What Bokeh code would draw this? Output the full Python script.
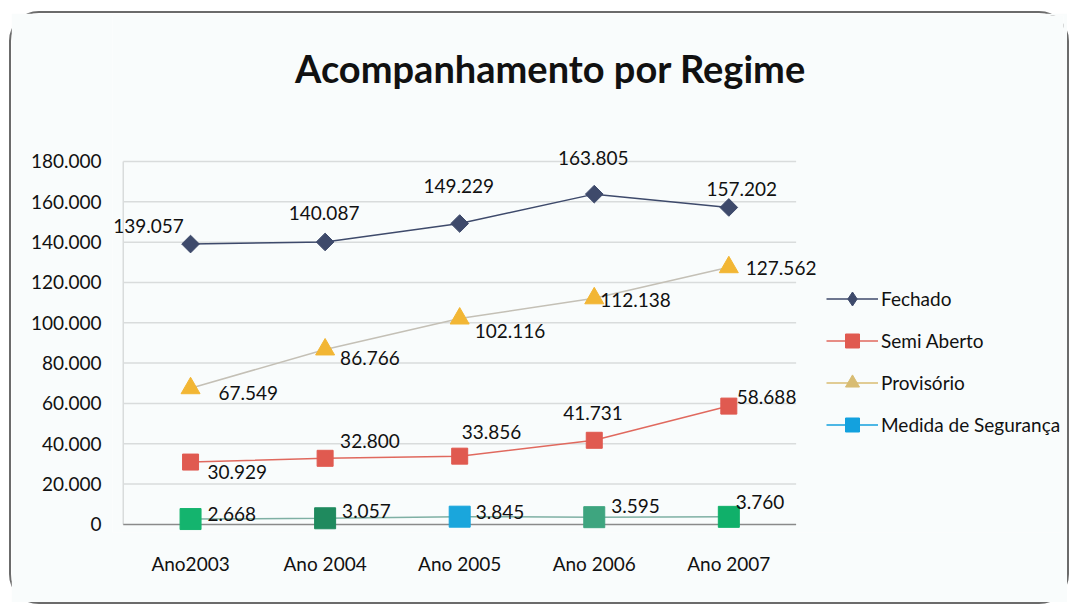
from bokeh.plotting import figure
from bokeh.models import (ColumnDataSource, Legend, LegendItem, CustomJSTickFormatter,
                          FixedTicker, Range1d, LabelSet, Label)
from bokeh.core.properties import value
from bokeh.embed import file_html
from bokeh.resources import INLINE

# ---------------- data ----------------
years = ["Ano2003", "Ano 2004", "Ano 2005", "Ano 2006", "Ano 2007"]
fechado = [139057, 140087, 149229, 163805, 157202]
semi_aberto = [30929, 32800, 33856, 41731, 58688]
provisorio = [67549, 86766, 102116, 112138, 127562]
medida = [2668, 3057, 3845, 3595, 3760]
y_ticks = [0, 20000, 40000, 60000, 80000, 100000, 120000, 140000, 160000, 180000]
series_names = ["Fechado", "Semi Aberto", "Provisório", "Medida de Segurança"]
title_text = "Acompanhamento por Regime"

# ---------------- styling / layout ----------------
FONT = "Lato"
BG = "#F9FCFC"
TXT = "#111111"
c_fech = "#3E4A6B"
c_semi_line = "#E0695E"
c_semi = "#E05A50"
c_prov_line = "#C4C0B6"
c_prov = "#F2B634"
c_prov_leg = "#D8BC72"
c_med_line = "#7FB0A4"
c_med_leg = "#13A1DE"
med_point_colors = ["#14B46E", "#1F8A5E", "#1AA6DC", "#3EA57F", "#10B06A"]
grid_color = "#D9DCDC"

# label offsets (pixels) for each series' data labels
fech_xo = [-42, -1, -1, -1, 13]
fech_yo = [18, 29, 38, 36, 18]
prov_xo = [28, 15, 15, 6, 17]
prov_yo = [-5, -9, -12, -2, -1]
semi_xo = [17, 15, 2, -31, 8]
semi_yo = [-10, 17, 24, 27, 9]
med_xo = [17, 17, 16, 17, 7]
med_yo = [5, 7, 5, 11, 15]


def fmt(v):
    return f"{v:,}".replace(",", ".")


xs = list(range(len(years)))
x_lo, x_hi = -0.5, len(years) - 0.5

p = figure(x_range=Range1d(-0.58, 6.487), y_range=Range1d(-4000, 252400), width=1060, height=593,
           output_backend="svg", toolbar_location=None,
           min_border_left=101, min_border_right=8, min_border_bottom=74, min_border_top=2)
p.background_fill_color = BG
p.border_fill_color = BG
p.outline_line_color = None
p.styles = {"border": "2px solid #6b6b6b", "border-radius": "30px", "box-sizing": "border-box",
            "margin-left": "9px", "margin-top": "11px"}

# title (drawn inside the canvas area)
p.add_layout(Label(x=438, y=465, x_units="screen", y_units="screen", text=title_text,
                   text_align="center", text_baseline="middle", text_font=FONT,
                   text_font_style="bold", text_font_size="38px", text_color=TXT))

# axes
p.yaxis.ticker = FixedTicker(ticks=y_ticks)
p.yaxis.formatter = CustomJSTickFormatter(
    code="return Math.round(tick).toString().replace(/\\B(?=(\\d{3})+(?!\\d))/g, '.');")
p.yaxis.major_label_text_font = FONT
p.yaxis.major_label_text_font_size = "19px"
p.yaxis.major_label_text_color = TXT
p.yaxis.axis_line_color = None
p.yaxis.major_tick_line_color = None
p.yaxis.minor_tick_line_color = None
p.yaxis.major_tick_out = 0
p.yaxis.major_tick_in = 0
p.yaxis.major_label_standoff = 11

p.xaxis.ticker = FixedTicker(ticks=xs)
p.xaxis.major_label_overrides = {i: y for i, y in enumerate(years)}
p.xaxis.axis_line_color = None
p.xaxis.major_tick_line_color = None
p.xaxis.minor_tick_line_color = None
p.xaxis.major_tick_out = 0
p.xaxis.major_tick_in = 0
p.xaxis.major_label_text_font = FONT
p.xaxis.major_label_text_font_size = "19px"
p.xaxis.major_label_text_color = TXT
p.xaxis.major_label_standoff = 19

p.xgrid.grid_line_color = None
p.ygrid.grid_line_color = None

# plot-area gridlines, left edge and baseline
gl = y_ticks[1:]
p.segment(x0=[x_lo] * len(gl), x1=[x_hi] * len(gl), y0=gl, y1=gl, line_color=grid_color, line_width=1.5)
p.segment(x0=[x_lo], x1=[x_lo], y0=[y_ticks[0]], y1=[y_ticks[-1]], line_color=grid_color, line_width=1.5)
p.segment(x0=[x_lo], x1=[x_hi], y0=[0], y1=[0], line_color="#8A8A8A", line_width=1.5)

# sources
src_f = ColumnDataSource(dict(x=xs, y=fechado, t=[fmt(v) for v in fechado], xo=fech_xo, yo=fech_yo))
src_s = ColumnDataSource(dict(x=xs, y=semi_aberto, t=[fmt(v) for v in semi_aberto], xo=semi_xo, yo=semi_yo))
src_p = ColumnDataSource(dict(x=xs, y=provisorio, t=[fmt(v) for v in provisorio], xo=prov_xo, yo=prov_yo))
src_m = ColumnDataSource(dict(x=xs, y=medida, t=[fmt(v) for v in medida], xo=med_xo, yo=med_yo,
                              c=med_point_colors))

# series
lf = p.line("x", "y", source=src_f, line_color=c_fech, line_width=1.5)
sf = p.scatter("x", "y", source=src_f, marker="square", angle=0.785398, size=12.5,
               fill_color=c_fech, line_color=c_fech)

ls = p.line("x", "y", source=src_s, line_color=c_semi_line, line_width=1.5)
ss = p.scatter("x", "y", source=src_s, marker="square", size=16, fill_color=c_semi, line_color=c_semi)

lp = p.line("x", "y", source=src_p, line_color=c_prov_line, line_width=1.5)
sp = p.scatter("x", "y", source=src_p, marker="triangle", size=19, fill_color=c_prov, line_color=c_prov)

lm = p.line("x", "y", source=src_m, line_color=c_med_line, line_width=1.5)
sm = p.scatter("x", "y", source=src_m, marker="square", size=21, fill_color="c", line_color="c")

# legend-only (hidden) renderers for legend swatches
sf_leg = p.scatter("x", "y", source=src_f, marker="diamond", size=10, fill_color=c_fech,
                   line_color=c_fech, visible=False)
lp_leg = p.line("x", "y", source=src_p, line_color=c_prov_leg, line_width=1.5, visible=False)
sp_leg = p.scatter("x", "y", source=src_p, marker="triangle", size=10, fill_color=c_prov_leg,
                   line_color=c_prov_leg, visible=False)
lm_leg = p.line("x", "y", source=src_m, line_color=c_med_leg, line_width=1.5, visible=False)
sm_leg = p.scatter("x", "y", source=src_m, marker="square", size=10, fill_color=c_med_leg,
                   line_color=c_med_leg, visible=False)

# data labels
for src, align in [(src_f, "center"), (src_s, "left"), (src_p, "left"), (src_m, "left")]:
    p.add_layout(LabelSet(x="x", y="y", text="t", source=src, x_offset="xo", y_offset="yo",
                          text_align=align, text_baseline="middle", text_font=value(FONT),
                          text_font_size="19px", text_color=TXT))

legend = Legend(items=[
    LegendItem(label=series_names[0], renderers=[lf, sf_leg]),
    LegendItem(label=series_names[1], renderers=[ls, ss]),
    LegendItem(label=series_names[2], renderers=[lp_leg, sp_leg]),
    LegendItem(label=series_names[3], renderers=[lm_leg, sm_leg]),
], location=(714, 90))
legend.background_fill_alpha = 0
legend.border_line_color = None
legend.inactive_fill_alpha = 0
legend.padding = 0
legend.margin = 0
legend.glyph_width = 52
legend.glyph_height = 35
legend.label_height = 35
legend.spacing = 7
legend.label_standoff = 3
legend.label_text_font = FONT
legend.label_text_font_size = "19px"
legend.label_text_color = TXT
p.add_layout(legend)

open("out.html", "w").write(file_html(p, INLINE))
